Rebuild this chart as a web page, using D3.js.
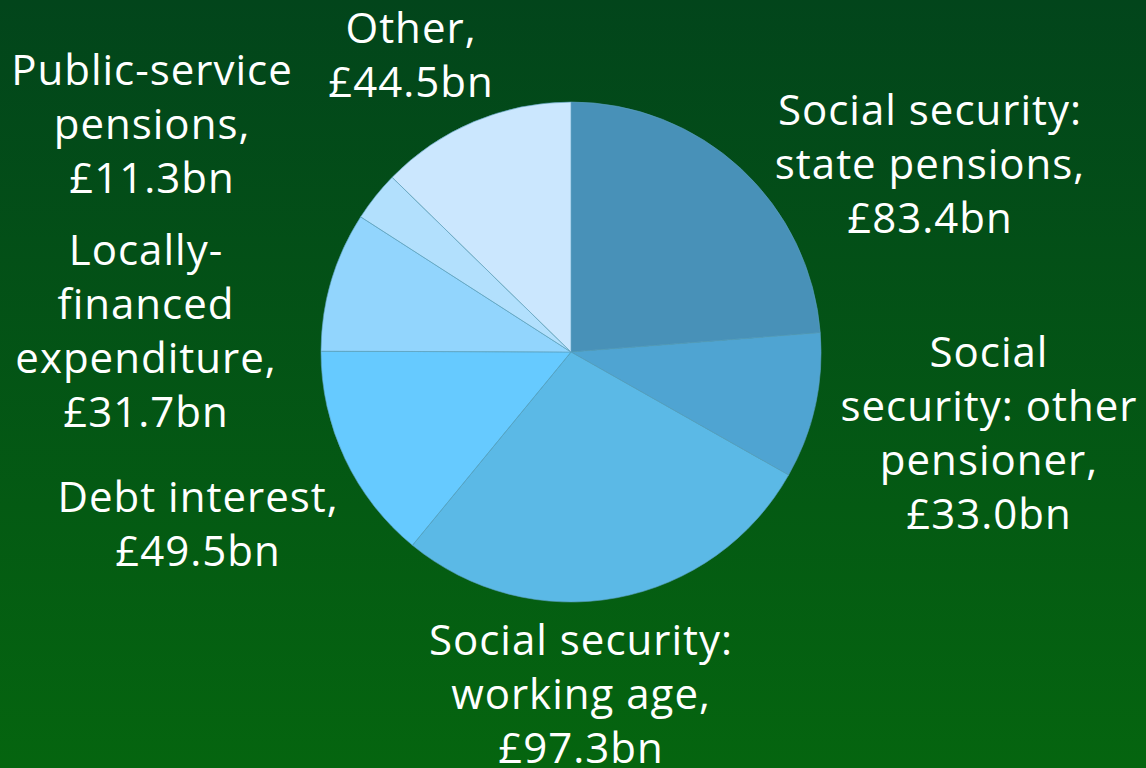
<!DOCTYPE html>
<html>
<head>
<meta charset="utf-8">
<script src="https://cdn.jsdelivr.net/npm/d3@7"></script>
<style>
html,body{margin:0;padding:0;overflow:hidden;}
svg{display:block;}
</style>
</head>
<body>
<svg id="chart" width="1146" height="768"></svg>
<script>
// Data
const categories = [
  "Social security: state pensions",
  "Social security: other pensioner",
  "Social security: working age",
  "Debt interest",
  "Locally-financed expenditure",
  "Public-service pensions",
  "Other"
];
const values = [83.4, 33.0, 97.3, 49.5, 31.7, 11.3, 44.5];
const labelLines = [
  ["Social security:", "state pensions,", "£83.4bn"],
  ["Social", "security: other", "pensioner,", "£33.0bn"],
  ["Social security:", "working age,", "£97.3bn"],
  ["Debt interest,", "£49.5bn"],
  ["Locally-", "financed", "expenditure,", "£31.7bn"],
  ["Public-service", "pensions,", "£11.3bn"],
  ["Other,", "£44.5bn"]
];
const colors = ["#4891b8", "#4fa4d2", "#5bb9e6", "#66caff", "#92d5fd", "#b2e0fd", "#cbe7fe"];
// label anchor: centre x and first-line baseline (layout)
const labelAnchors = [[930, 125], [989, 367], [581, 655], [198, 512], [146, 265], [152, 85], [411, 43]];

const W = 1146, H = 768;
const cx = 571, cy = 352, R = 250;
const lineH = 54;

const svg = d3.select("#chart");
const defs = svg.append("defs");
const grad = defs.append("linearGradient").attr("id", "bg").attr("x1", 0).attr("y1", 0).attr("x2", 0).attr("y2", 1);
grad.append("stop").attr("offset", "0%").attr("stop-color", "#02451b");
grad.append("stop").attr("offset", "100%").attr("stop-color", "#05650f");
svg.append("rect").attr("width", W).attr("height", H).attr("fill", "url(#bg)");

const pie = d3.pie().sort(null).value(d => d)(values);
const arc = d3.arc().innerRadius(0).outerRadius(R);

const g = svg.append("g").attr("transform", `translate(${cx},${cy})`);
g.selectAll("path").data(pie).enter().append("path")
  .attr("d", arc)
  .attr("fill", (d, i) => colors[i])
  .attr("stroke", "#5a9fbf")
  .attr("stroke-width", 0.6)
  .attr("stroke-linejoin", "round");

const labels = svg.append("g");
labelLines.forEach((lines, i) => {
  const t = labels.append("text")
    .attr("x", labelAnchors[i][0])
    .attr("y", labelAnchors[i][1])
    .attr("text-anchor", "middle")
    .attr("fill", "#ffffff")
    .attr("font-family", "'Open Sans', 'Noto Sans', sans-serif")
    .attr("font-size", 42)
    .attr("letter-spacing", 1);
  lines.forEach((ln, j) => {
    t.append("tspan").attr("x", labelAnchors[i][0]).attr("dy", j === 0 ? 0 : lineH).text(ln);
  });
});
</script>
</body>
</html>
